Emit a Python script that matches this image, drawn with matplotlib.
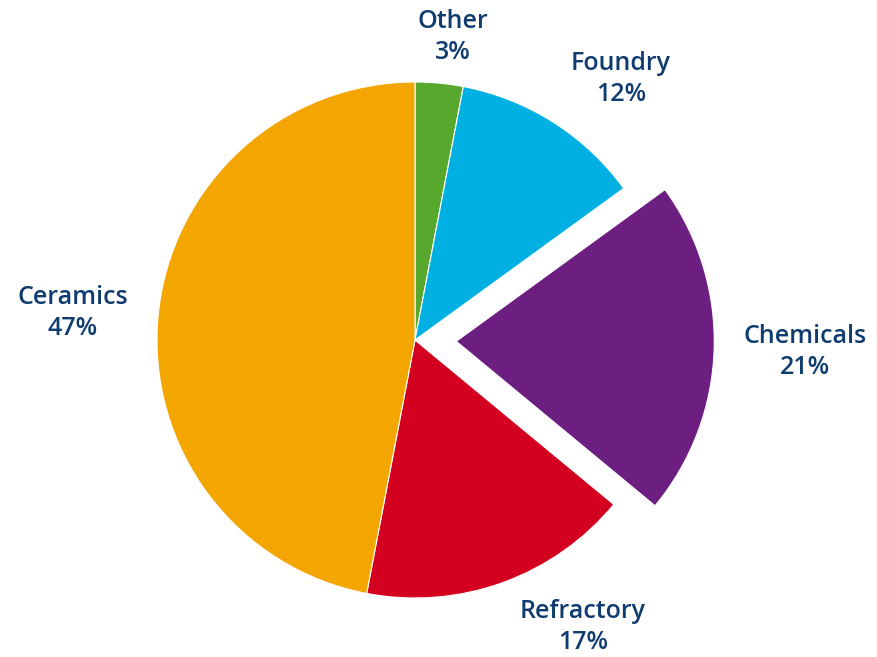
import matplotlib.pyplot as plt

labels = ['Other', 'Foundry', 'Chemicals', 'Refractory', 'Ceramics']
shares = [3, 12, 21, 17, 47]
colors = ['#58a82e', '#00b0e3', '#6c1f80', '#d4001f', '#f3a600']
explode = [0, 0, 0.16, 0, 0]  # fraction of the radius

# label centres in pixel coordinates (y measured from the bottom)
label_xy = [(453, 620), (621, 578), (805, 305), (583, 30), (73, 344)]

radius = 258
fig = plt.figure(figsize=(8.77, 6.57), dpi=100)
ax = fig.add_axes([0, 0, 1, 1])

ax.pie(shares, colors=colors, explode=[e * radius for e in explode],
       startangle=90, counterclock=False,
       center=(415, 317), radius=radius,
       wedgeprops={'edgecolor': 'white', 'linewidth': 0.8})

for name, val, (x, y) in zip(labels, shares, label_xy):
    ax.text(x, y, f'{name}\n{val}%', ha='center', va='center', color='#0f3c6e',
            fontsize=18, family='Open Sans', fontweight='semibold', linespacing=1.35)

ax.set_xlim(0, 877)
ax.set_ylim(0, 657)
ax.set_aspect('equal')
ax.axis('off')

fig.savefig('out.png', dpi=100)
